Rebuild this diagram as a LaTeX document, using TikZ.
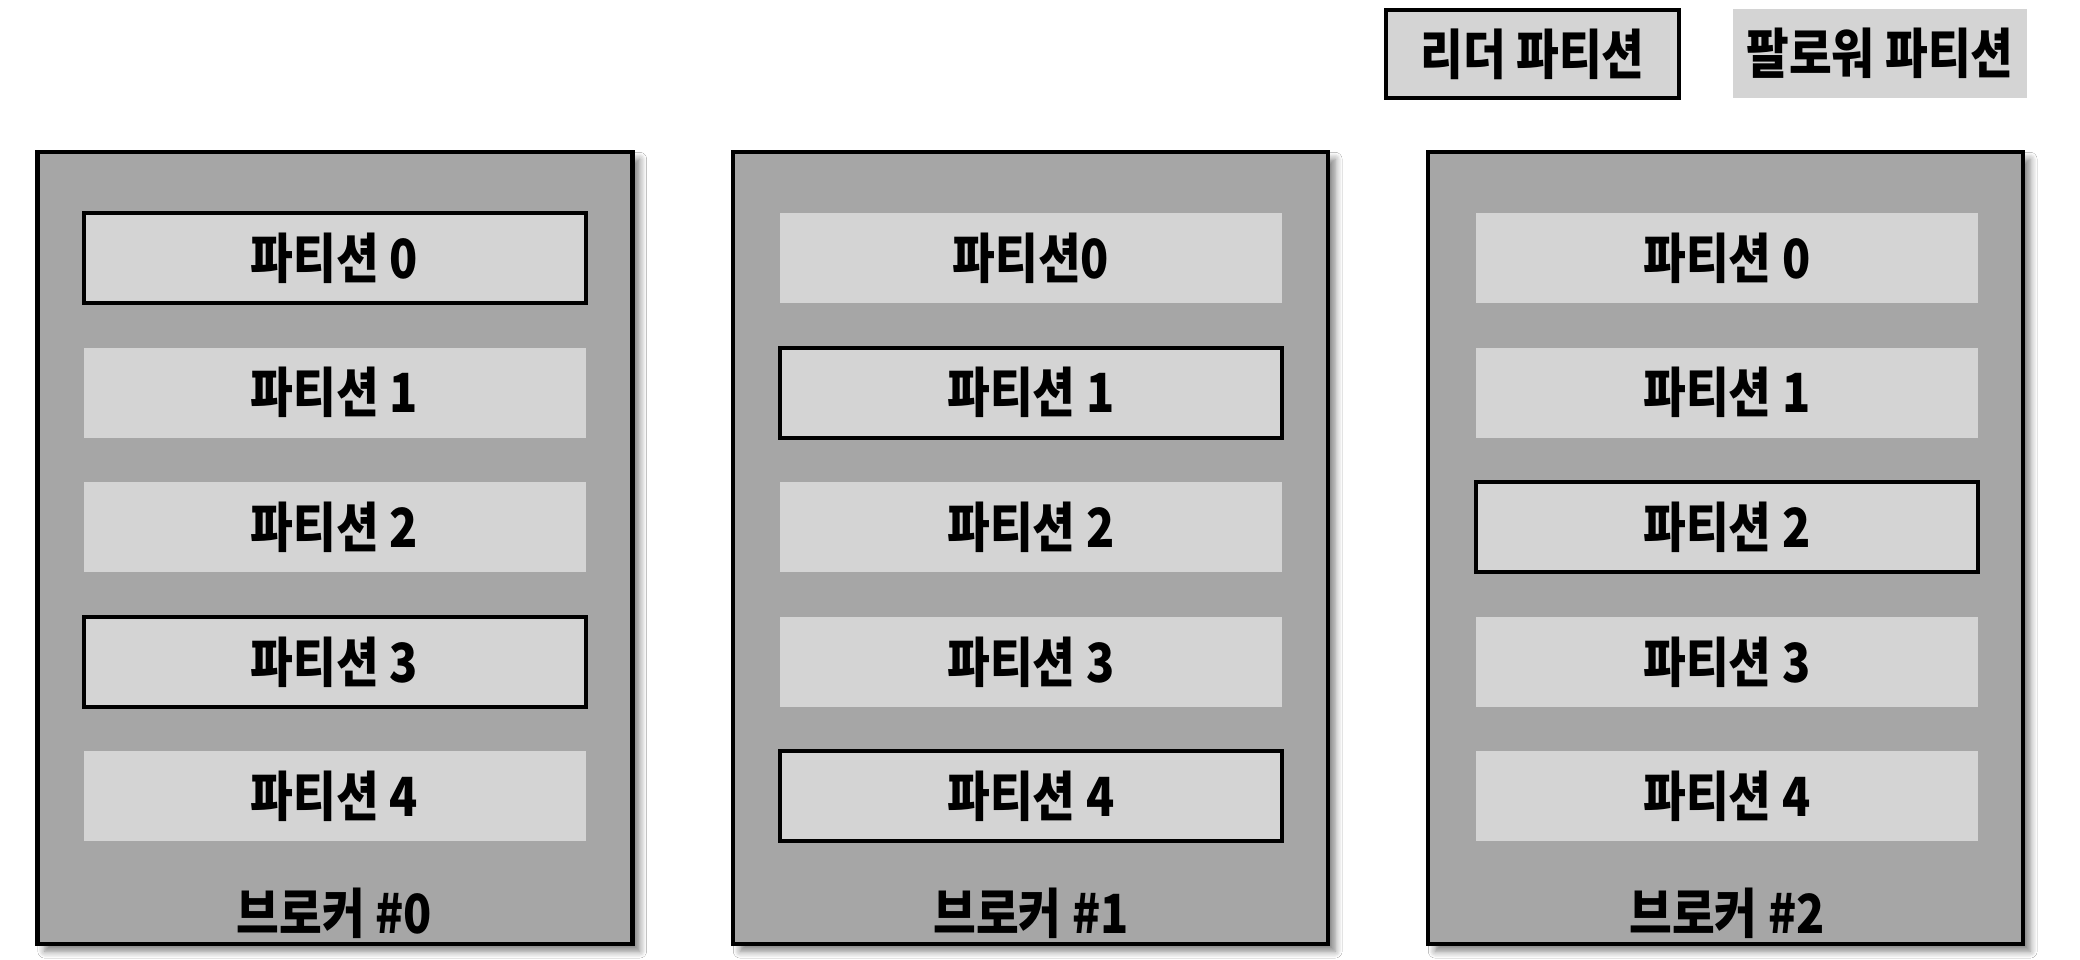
\documentclass[tikz,border=0pt]{standalone}
\usepackage{fontspec}
\usetikzlibrary{shadows.blur}
\newfontfamily\kr{Noto Sans CJK KR}[FakeStretch=0.86]
\definecolor{brokergray}{HTML}{A6A6A6}
\definecolor{partgray}{HTML}{D4D4D4}
\tikzset{
  broker/.style={draw=black, line width=1.1pt, fill=brokergray, minimum width=148.75pt, minimum height=198pt, inner sep=0pt,
    blur shadow={shadow xshift=1.8pt, shadow yshift=-1.8pt, shadow blur steps=6, shadow opacity=50}},
  txt/.style={font=\kr\bfseries\fontsize{13.5}{16}\selectfont, text=black},
  leaderpart/.style={txt, draw=black, line width=1pt, fill=partgray, minimum width=125.5pt, minimum height=22.5pt, inner sep=0pt},
  followpart/.style={leaderpart, draw=none},
  blabel/.style={txt, inner sep=0pt},
}
\begin{document}
\begin{tikzpicture}[x=0.25pt,y=-0.25pt]
\fill[white] (0,0) rectangle (2080,960);
\useasboundingbox (0,0) rectangle (2080,960);
% legend
\node[leaderpart, minimum width=73.25pt, minimum height=22pt] (legL) at (1532.5,54) {리더 파티션};
\node[followpart, minimum width=73.5pt, minimum height=22.25pt] (legF) at (1880,53.5) {팔로워 파티션};
% brokers
\node[broker] (b0) at (335,548) {};
\node[broker] (b1) at (1030.5,548) {};
\node[broker] (b2) at (1725.5,548) {};
% broker 0
\node[leaderpart] (b0p0) at (334.5,258) {파티션 0};
\node[followpart] (b0p1) at (334.5,392.6) {파티션 1};
\node[followpart] (b0p2) at (334.5,527.3) {파티션 2};
\node[leaderpart] (b0p3) at (334.5,661.9) {파티션 3};
\node[followpart] (b0p4) at (334.5,796.5) {파티션 4};
\node[blabel] (b0l) at (334.5,913) {브로커 \#0};
% broker 1
\node[followpart] (b1p0) at (1031,258) {파티션0};
\node[leaderpart] (b1p1) at (1031,392.6) {파티션 1};
\node[followpart] (b1p2) at (1031,527.3) {파티션 2};
\node[followpart] (b1p3) at (1031,661.9) {파티션 3};
\node[leaderpart] (b1p4) at (1031,796.5) {파티션 4};
\node[blabel] (b1l) at (1031,913) {브로커 \#1};
% broker 2
\node[followpart] (b2p0) at (1727,258) {파티션 0};
\node[followpart] (b2p1) at (1727,392.6) {파티션 1};
\node[leaderpart] (b2p2) at (1727,527.3) {파티션 2};
\node[followpart] (b2p3) at (1727,661.9) {파티션 3};
\node[followpart] (b2p4) at (1727,796.5) {파티션 4};
\node[blabel] (b2l) at (1727,913) {브로커 \#2};
\end{tikzpicture}
\end{document}
